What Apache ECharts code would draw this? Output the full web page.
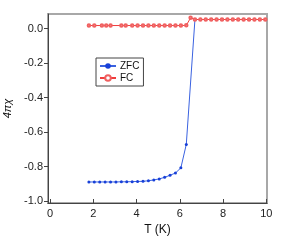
<!DOCTYPE html>
<html><head><meta charset="utf-8">
<script src="https://cdn.jsdelivr.net/npm/echarts@6/dist/echarts.min.js"></script>
<style>html,body{margin:0;padding:0;background:#fff}#c{width:296px;height:244px}</style>
</head><body><div id="c"></div>
<script>
const zfcT = [1.8,2.05,2.3,2.55,2.8,3.05,3.3,3.55,3.8,4.05,4.3,4.55,4.8,5.05,5.3,5.55,5.8,6.05,6.3,6.7,6.95,7.2,7.45,7.7,7.95,8.2,8.45,8.7,8.95,9.2,9.45,9.7,9.95];
const zfcV = [-0.890,-0.890,-0.890,-0.890,-0.890,-0.890,-0.889,-0.889,-0.888,-0.887,-0.886,-0.883,-0.878,-0.872,-0.863,-0.851,-0.838,-0.808,-0.672,0.053,0.053,0.053,0.053,0.053,0.053,0.053,0.053,0.053,0.053,0.053,0.053,0.053,0.053];
const fcT = [1.8,2.05,2.4,2.6,2.8,3.3,3.5,3.8,4.05,4.3,4.55,4.8,5.05,5.3,5.55,5.8,6.05,6.3,6.5,6.7,6.95,7.2,7.45,7.7,7.95,8.2,8.45,8.7,8.95,9.2,9.45,9.7,9.95];
const fcV = [0.018,0.018,0.018,0.018,0.018,0.018,0.018,0.018,0.018,0.018,0.018,0.018,0.018,0.018,0.018,0.018,0.018,0.019,0.063,0.053,0.053,0.053,0.053,0.053,0.053,0.053,0.053,0.053,0.053,0.053,0.053,0.053,0.053];
const xTicks = [0,2,4,6,8,10];
const yTicks = [-1.0,-0.8,-0.6,-0.4,-0.2,0.0];
const seriesNames = ['ZFC','FC'];

const pair = (a,b) => a.map((t,i)=>[t,b[i]]);
const chart = echarts.init(document.getElementById('c'), null, {renderer:'canvas'});
const font = 'Liberation Sans, Arial, sans-serif';
chart.setOption({
  animation:false,
  grid:{left:48,right:29,top:14,bottom:41,show:true,borderColor:'#a8a8a8',borderWidth:2,backgroundColor:'transparent',
        containLabel:false,outerBoundsMode:'none'},
  legend:{
    left:96, top:58, orient:'vertical', data:seriesNames,
    borderColor:'#444', borderWidth:1, backgroundColor:'#fff',
    padding:[3,4,3,3], itemGap:2, itemWidth:16, itemHeight:7,
    textStyle:{fontFamily:font,fontSize:10,color:'#111',padding:[0,0,0,-1]}
  },
  xAxis:{
    type:'value', min:-0.09, max:10.03,
    name:'T (K)', nameLocation:'middle', nameGap:20,
    nameTextStyle:{fontFamily:font,fontSize:12,color:'#111'},
    axisLine:{show:true,onZero:false,lineStyle:{color:'#444',width:1}},
    axisTick:{show:true,inside:true,length:4,customValues:xTicks,lineStyle:{color:'#444'}},
    axisLabel:{customValues:xTicks,fontFamily:font,fontSize:11,color:'#222',margin:5,formatter:v=>String(Math.round(v))},
    splitLine:{show:false}
  },
  yAxis:{
    type:'value', min:-1.012, max:0.085,
    name:'4πχ', nameLocation:'middle', nameGap:30, nameRotate:90,
    nameTextStyle:{fontFamily:font,fontSize:11,fontStyle:'italic',color:'#111'},
    axisLine:{show:true,onZero:false,lineStyle:{color:'#444',width:1}},
    axisTick:{show:true,inside:false,length:4,customValues:yTicks,lineStyle:{color:'#444'}},
    axisLabel:{customValues:yTicks,fontFamily:font,fontSize:11,color:'#222',margin:5,formatter:v=>v.toFixed(1)},
    splitLine:{show:false}
  },
  series:[
    {name:'ZFC',type:'line',data:pair(zfcT,zfcV),symbol:'circle',symbolSize:3,showAllSymbol:true,
     lineStyle:{color:'#3a62e0',width:1},itemStyle:{color:'#1840d8'},z:2},
    {name:'FC',type:'line',data:pair(fcT,fcV),symbol:'emptyCircle',symbolSize:2.5,showAllSymbol:true,
     lineStyle:{color:'#f03c3c',width:1},itemStyle:{color:'#f06060',borderWidth:0.7},z:3}
  ]
});
</script></body></html>
